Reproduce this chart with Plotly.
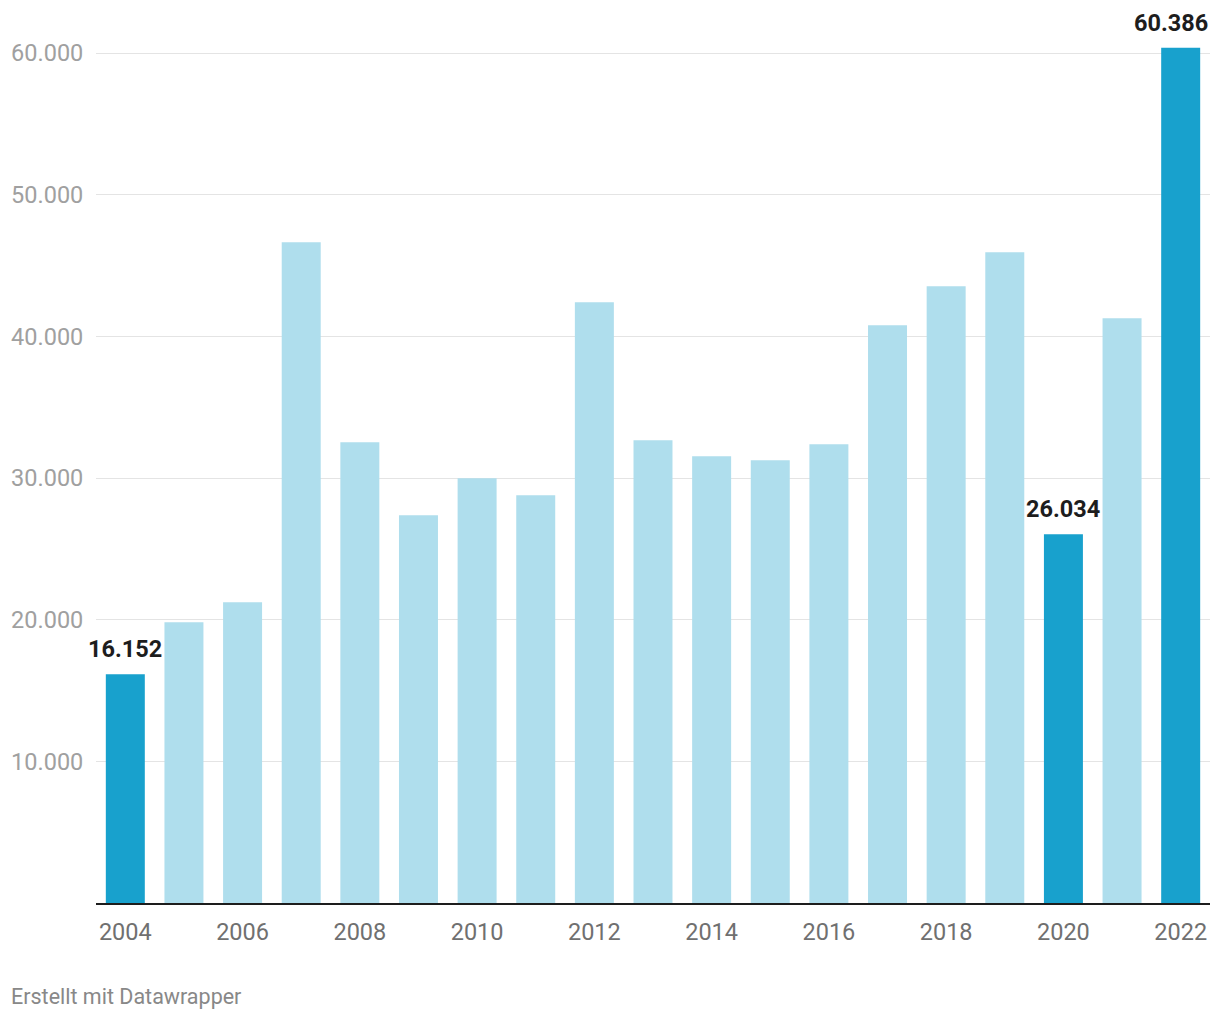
import plotly.graph_objects as go

years = list(range(2004, 2023))
values = [16152, 19830, 21240, 46650, 32530, 27380, 29990, 28790, 42410,
          32670, 31550, 31260, 32390, 40790, 43540, 45940, 26034, 41280, 60386]
highlight_years = [2004, 2020, 2022]
y_ticks = [10000, 20000, 30000, 40000, 50000, 60000]
x_ticks = list(range(2004, 2023, 2))

DARK = "#18a1cd"
LIGHT = "#afdeed"

def fmt(v):
    return f"{v:,}".replace(",", ".")

colors = [DARK if y in highlight_years else LIGHT for y in years]

fig = go.Figure(go.Bar(
    x=years, y=values, marker=dict(color=colors, line=dict(width=0)),
    width=0.665, cliponaxis=False, hoverinfo="skip",
))

annotations = []
for yr, v in zip(years, values):
    if yr in highlight_years:
        annotations.append(dict(
            x=yr, y=v, xref="x", yref="y", text=fmt(v), showarrow=False,
            yanchor="bottom", xanchor="center", yshift=9,
            xshift=-10 if yr == years[-1] else 0,
            font=dict(family="Roboto", size=23.5, color="#1d1d1d", weight="bold"),
        ))
annotations.append(dict(
    text="Erstellt mit Datawrapper", xref="paper", yref="paper",
    x=(9 - 96) / 1114, y=-(996 - 903) / 864, xanchor="left", yanchor="middle",
    showarrow=False, font=dict(family="Roboto", size=21.5, color="#888888"),
))

fig.update_layout(
    width=1220, height=1020,
    margin=dict(l=96, r=10, t=39, b=117),
    paper_bgcolor="white", plot_bgcolor="white",
    separators=",.",
    showlegend=False,
    font=dict(family="Roboto"),
    xaxis=dict(
        range=[2003.5, 2022.5], tickvals=x_ticks,
        ticktext=[str(t) for t in x_ticks],
        showgrid=False, showline=True, linecolor="#1d1d1d", linewidth=2,
        ticks="outside", ticklen=7, tickcolor="rgba(0,0,0,0)",
        tickfont=dict(family="Roboto", size=23.5, color="#707070"),
        fixedrange=True,
    ),
    yaxis=dict(
        range=[0, 61000], tickvals=y_ticks,
        ticktext=[fmt(t) for t in y_ticks],
        showgrid=True, gridcolor="#e4e4e4", gridwidth=1, zeroline=False,
        ticks="outside", ticklen=7, tickcolor="rgba(0,0,0,0)",
        tickfont=dict(family="Roboto", size=23.5, color="#a0a0a0"),
        fixedrange=True,
    ),
    annotations=annotations,
)

fig.write_html("out.html")
